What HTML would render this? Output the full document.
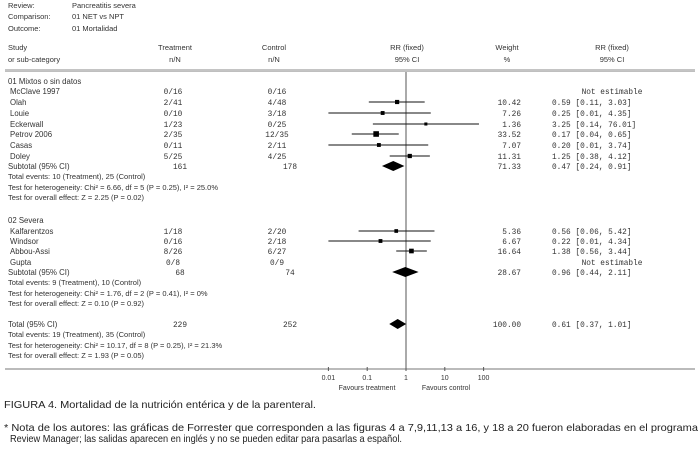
<!DOCTYPE html>
<html><head><meta charset="utf-8"><style>
html,body{margin:0;padding:0;background:#fff;}
svg{display:block;}
text{font-family:"Liberation Sans",sans-serif;fill:#333;}
.m{font-family:"Liberation Mono",monospace;}
</style></head><body>
<svg id="plot" width="700" height="457" viewBox="0 0 700 457">
<g font-size="7.5">
<text x="8" y="8">Review:</text>
<text x="72" y="8">Pancreatitis severa</text>
<text x="8" y="19">Comparison:</text>
<text x="72" y="19">01 NET vs NPT</text>
<text x="8" y="31">Outcome:</text>
<text x="72" y="31">01 Mortalidad</text>
<text x="8" y="50">Study</text>
<text x="8" y="62">or sub-category</text>
<text x="175" y="50" text-anchor="middle">Treatment</text>
<text x="175" y="62" text-anchor="middle">n/N</text>
<text x="274" y="50" text-anchor="middle">Control</text>
<text x="274" y="62" text-anchor="middle">n/N</text>
<text x="407" y="50" text-anchor="middle">RR (fixed)</text>
<text x="407" y="62" text-anchor="middle">95% CI</text>
<text x="507" y="50" text-anchor="middle">Weight</text>
<text x="507" y="62" text-anchor="middle">%</text>
<text x="612" y="50" text-anchor="middle">RR (fixed)</text>
<text x="612" y="62" text-anchor="middle">95% CI</text>
</g>
<line x1="5" y1="70" x2="695" y2="70" stroke="#888" stroke-width="1"/>
<line x1="5" y1="71.5" x2="695" y2="71.5" stroke="#aaa" stroke-width="0.8"/>
<g id="rows"></g>
<line x1="5" y1="369" x2="695" y2="369" stroke="#777" stroke-width="1"/>
<g id="axis" font-size="7"></g>
<text x="367" y="390" text-anchor="middle" font-size="7">Favours treatment</text>
<text x="446" y="390" text-anchor="middle" font-size="7">Favours control</text>
<text x="4" y="408" font-size="10.5" textLength="312" lengthAdjust="spacingAndGlyphs" style="fill:#222">FIGURA 4. Mortalidad de la nutrición entérica y de la parenteral.</text>
<text x="4" y="431" font-size="10.5" textLength="694" lengthAdjust="spacingAndGlyphs" style="fill:#222">* Nota de los autores: las gráficas de Forrester que corresponden a las figuras 4 a 7,9,11,13 a 16, y 18 a 20 fueron elaboradas en el programa</text>
<text x="10" y="442" font-size="10.5" textLength="392" lengthAdjust="spacingAndGlyphs" style="fill:#222">Review Manager; las salidas  aparecen en inglés y no se pueden editar para pasarlas a español.</text>
</svg>
<script>
const studyNames = ["McClave 1997","Olah","Louie","Eckerwall","Petrov 2006","Casas","Doley","Kalfarentzos","Windsor","Abbou-Assi","Gupta"];
const treatmentNN = ["0/16","2/41","0/10","1/23","2/35","0/11","5/25","1/18","0/16","8/26","0/8"];
const controlNN = ["0/16","4/48","3/18","0/25","12/35","2/11","4/25","2/20","2/18","6/27","0/9"];
const studyRR = [null,0.59,0.25,3.25,0.17,0.20,1.25,0.56,0.22,1.38,null];
const studyLo = [null,0.11,0.01,0.14,0.04,0.01,0.38,0.06,0.01,0.56,null];
const studyHi = [null,3.03,4.35,76.01,0.65,3.74,4.12,5.42,4.34,3.44,null];
const studyWeight = [null,10.42,7.26,1.36,33.52,7.07,11.31,5.36,6.67,16.64,null];
const studyRows = [91,102,113,124,134,145,156,231,241,251,262];
const pooledNames = ["Subtotal (95% CI)","Subtotal (95% CI)","Total (95% CI)"];
const pooledN1 = [161,68,229];
const pooledN2 = [178,74,252];
const pooledRR = [0.47,0.96,0.61];
const pooledLo = [0.24,0.44,0.37];
const pooledHi = [0.91,2.11,1.01];
const pooledWeight = [71.33,28.67,100.00];
const pooledRows = [166,272,324];
const tickValues = [0.01,0.1,1,10,100];
const tickLabels = ["0.01","0.1","1","10","100"];
const notes = [
 [176,"Total events: 10 (Treatment), 25 (Control)"],
 [187,"Test for heterogeneity: Chi² = 6.66, df = 5 (P = 0.25), I² = 25.0%"],
 [197,"Test for overall effect: Z = 2.25 (P = 0.02)"],
 [282,"Total events: 9 (Treatment), 10 (Control)"],
 [293,"Test for heterogeneity: Chi² = 1.76, df = 2 (P = 0.41), I² = 0%"],
 [303,"Test for overall effect: Z = 0.10 (P = 0.92)"],
 [334,"Total events: 19 (Treatment), 35 (Control)"],
 [345,"Test for heterogeneity: Chi² = 10.17, df = 8 (P = 0.25), I² = 21.3%"],
 [355,"Test for overall effect: Z = 1.93 (P = 0.05)"]];
const headings = [[81,"01 Mixtos o sin datos"],[220,"02 Severa"]];

const NS="http://www.w3.org/2000/svg";
const xs = v => 406 + 38.8*Math.log10(v);
const rows = document.getElementById('rows');
function mk(tag, attrs, txt){const e=document.createElementNS(NS,tag);for(const k in attrs)e.setAttribute(k,attrs[k]);if(txt!==undefined)e.textContent=txt;rows.appendChild(e);return e;}
const f2 = v => v.toFixed(2);
const FS = 7.8;

let ref = mk('line',{x1:xs(1),y1:72,x2:xs(1),y2:369,stroke:'#555','stroke-width':1});



headings.forEach(h=>{
 let t=mk('text',{x:8,y:h[0]+3,'font-size':FS},h[1]);
 
 
});

studyNames.forEach((n,i)=>{
 const y=studyRows[i];
 let t=mk('text',{x:10,y:y+3,'font-size':FS},n);
 
 
 t=mk('text',{x:173,y:y+3,'font-size':FS,'text-anchor':'middle',class:'m'},treatmentNN[i]);
 
 
 t=mk('text',{x:277,y:y+3,'font-size':FS,'text-anchor':'middle',class:'m'},controlNN[i]);
 
 
 if(studyRR[i]===null){
  t=mk('text',{x:612,y:y+3,'font-size':FS,'text-anchor':'middle',class:'m'},"Not estimable");
  
  
  return;
 }
 const w=studyWeight[i];
 let l=mk('line',{x1:xs(studyLo[i]),y1:y,x2:xs(studyHi[i]),y2:y,stroke:'#111','stroke-width':w>10?1.1:0.9});
 
 
 const s=2.4+Math.sqrt(w)*0.55;
 let b=mk('rect',{x:xs(studyRR[i])-s/2,y:y-s/2,width:s,height:s,fill:'#000'});
 
 
 t=mk('text',{x:521,y:y+3,'font-size':FS,'text-anchor':'end',class:'m'},f2(w));
 
 
 t=mk('text',{x:552,y:y+3,'font-size':FS,class:'m'},f2(studyRR[i])+" ["+f2(studyLo[i])+", "+f2(studyHi[i])+"]");
 
 
});

pooledNames.forEach((n,i)=>{
 const y=pooledRows[i];
 let t=mk('text',{x:8,y:y+3,'font-size':FS},n);
 
 
 t=mk('text',{x:180,y:y+3,'font-size':FS,'text-anchor':'middle',class:'m'},pooledN1[i]);
 
 
 t=mk('text',{x:290,y:y+3,'font-size':FS,'text-anchor':'middle',class:'m'},pooledN2[i]);
 
 
 const a=xs(pooledLo[i]),c=xs(pooledRR[i]),b2=xs(pooledHi[i]);
 let d=mk('polygon',{points:`${a},${y} ${c},${y-5} ${b2},${y} ${c},${y+5}`,fill:'#000'});
 
 
 t=mk('text',{x:521,y:y+3,'font-size':FS,'text-anchor':'end',class:'m'},f2(pooledWeight[i]));
 
 
 t=mk('text',{x:552,y:y+3,'font-size':FS,class:'m'},f2(pooledRR[i])+" ["+f2(pooledLo[i])+", "+f2(pooledHi[i])+"]");
 
 
});

notes.forEach(nt=>{
 let t=mk('text',{x:8,y:nt[0]+3,'font-size':7.5},nt[1]);
 
 
});

const axis=document.getElementById('axis');
tickValues.forEach((v,i)=>{
 const x=xs(v);
 const l=document.createElementNS(NS,'line');
 l.setAttribute('x1',x);l.setAttribute('x2',x);l.setAttribute('y1',367);l.setAttribute('y2',371);l.setAttribute('stroke','#555');
 
 
 axis.appendChild(l);
 const t=document.createElementNS(NS,'text');
 t.setAttribute('x',x);t.setAttribute('y',380);t.setAttribute('text-anchor','middle');
 t.textContent=tickLabels[i];
 
 
 axis.appendChild(t);
});
</script>
</body></html>
